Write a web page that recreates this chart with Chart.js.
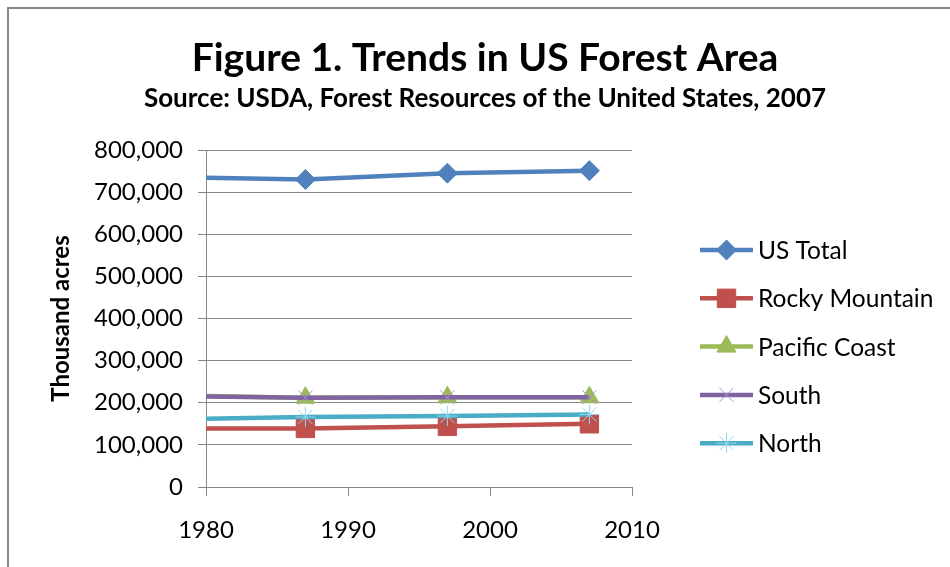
<!DOCTYPE html>
<html>
<head>
<meta charset="utf-8">
<script src="https://cdn.jsdelivr.net/npm/chart.js@4.4.1/dist/chart.umd.min.js"></script>
<style>
  html, body { margin: 0; padding: 0; background: #fff; overflow: hidden; }
  #frame {
    position: absolute; left: 7px; top: 7px;
    width: 1000px; height: 600px;
    border: 2px solid #878787;
  }
  #wrap { position: absolute; left: 0; top: 0; width: 950px; height: 567px; }
</style>
</head>
<body>
<div id="frame"></div>
<div id="wrap"><canvas id="forestChart" width="950" height="567"></canvas></div>
<script>
// ── DATA (thousand acres) ──
const years = [1977, 1987, 1997, 2007];
const usTotal       = [736000, 730000, 745000, 751000];
const rockyMountain = [139000, 139000, 144000, 150000];
const pacificCoast  = [218000, 212000, 213000, 213000];
const south         = [216000, 212000, 213000, 213000];
const north         = [160000, 166000, 168500, 172000];

const seriesNames = ["US Total", "Rocky Mountain", "Pacific Coast", "South", "North"];
const xTickValues = [1980, 1990, 2000, 2010];
const yTickValues = [0, 100000, 200000, 300000, 400000, 500000, 600000, 700000, 800000];

const FONT = "Lato, 'Open Sans', sans-serif";
const GRID = "#868686";

// ── HELPERS ──
function toPoints(values) {
  return years.map((yr, i) => ({ x: yr, y: values[i] }));
}

// later series are painted on top, like Excel does
function series(idx, values, color, style, radius, markerBorder) {
  return {
    label: seriesNames[idx],
    data: toPoints(values),
    order: seriesNames.length - idx,
    borderColor: color,
    backgroundColor: color,
    borderWidth: 4.5,
    pointStyle: style,
    pointRadius: radius,
    pointHoverRadius: radius,
    pointBackgroundColor: color,
    pointBorderColor: markerBorder || color,
    pointBorderWidth: 1,
    tension: 0,
    clip: 0
  };
}

// ── SIDE LEGEND (a layout box on the right, like Excel's) ──
const sideLegend = {
  id: "sideLegend",
  beforeInit(chart) {
    const box = {
      position: "right",
      weight: 0,
      fullSize: false,
      options: {},
      isHorizontal() { return false; },
      update(maxWidth, maxHeight) { this.width = 318; this.height = maxHeight; },
      draw() {
        const ctx = chart.ctx;
        const area = chart.chartArea;
        const x0 = this.left + 68;
        const x1 = x0 + 53;
        ctx.save();
        chart.data.datasets.forEach((ds, i) => {
          const y = area.top + 100 + i * 48.3;
          ctx.strokeStyle = ds.borderColor;
          ctx.lineWidth = ds.borderWidth;
          ctx.beginPath();
          ctx.moveTo(x0, y);
          ctx.lineTo(x1, y);
          ctx.stroke();
          ctx.fillStyle = ds.pointBackgroundColor;
          ctx.strokeStyle = ds.pointBorderColor;
          ctx.lineWidth = ds.pointBorderWidth;
          Chart.helpers.drawPoint(ctx, {
            pointStyle: ds.pointStyle, rotation: 0,
            radius: ds.pointRadius, borderWidth: ds.pointBorderWidth
          }, (x0 + x1) / 2, y);
          ctx.fillStyle = "#000";
          ctx.font = "24.5px " + FONT;
          ctx.textAlign = "left";
          ctx.textBaseline = "middle";
          ctx.fillText(ds.label, x1 + 5, y + 1);
        });
        ctx.restore();
      }
    };
    Chart.layouts.addBox(chart, box);
  }
};

// ── CHART ──
const ctx = document.getElementById("forestChart");

new Chart(ctx, {
  type: "line",
  data: {
    datasets: [
      series(0, usTotal,       "#4F81BD", "rectRot",  10),
      series(1, rockyMountain, "#C0504D", "rect",     13),
      series(2, pacificCoast,  "#9BBB59", "triangle", 11),
      series(3, south,         "#8064A2", "crossRot", 10, "#A991D4"),
      series(4, north,         "#4BACC6", "star",     10, "#8ED8EE")
    ]
  },
  options: {
    responsive: false,
    animation: false,
    layout: { padding: { left: 20, right: 0, top: 0, bottom: 0 } },
    plugins: {
      legend: { display: false },
      tooltip: { enabled: false },
      title: {
        display: true,
        text: "Figure 1. Trends in US Forest Area",
        color: "#000",
        font: { family: FONT, size: 39, weight: "bold" },
        padding: { top: 35, bottom: 0 }
      },
      subtitle: {
        display: true,
        text: "Source: USDA, Forest Resources of the United States, 2007",
        color: "#000",
        font: { family: FONT, size: 26, weight: "bold" },
        padding: { top: 1.5, bottom: 35.5 }
      }
    },
    scales: {
      x: {
        type: "linear",
        min: 1980,
        max: 2010,
        afterBuildTicks(scale) { scale.ticks = xTickValues.map(v => ({ value: v })); },
        afterFit(scale) { scale.height = 80; },
        grid: { drawOnChartArea: false, drawTicks: true, tickLength: 9, color: GRID },
        border: { display: true, color: GRID, width: 1 },
        ticks: {
          color: "#000",
          font: { family: FONT, size: 24 },
          padding: 20,
          callback: v => String(v)
        }
      },
      y: {
        min: 0,
        max: 800000,
        afterBuildTicks(scale) { scale.ticks = yTickValues.map(v => ({ value: v })); },
        afterFit(scale) { scale.width = 186; },
        grid: { color: GRID, tickLength: 8, drawTicks: true },
        border: { display: true, color: GRID, width: 1 },
        ticks: {
          color: "#000",
          font: { family: FONT, size: 24 },
          padding: 15,
          callback: v => v.toLocaleString("en-US")
        },
        title: {
          display: true,
          text: "Thousand acres",
          color: "#000",
          font: { family: FONT, size: 24, weight: "bold" },
          padding: { top: 27, bottom: 0 }
        }
      }
    }
  },
  plugins: [sideLegend]
});
</script>
</body>
</html>
